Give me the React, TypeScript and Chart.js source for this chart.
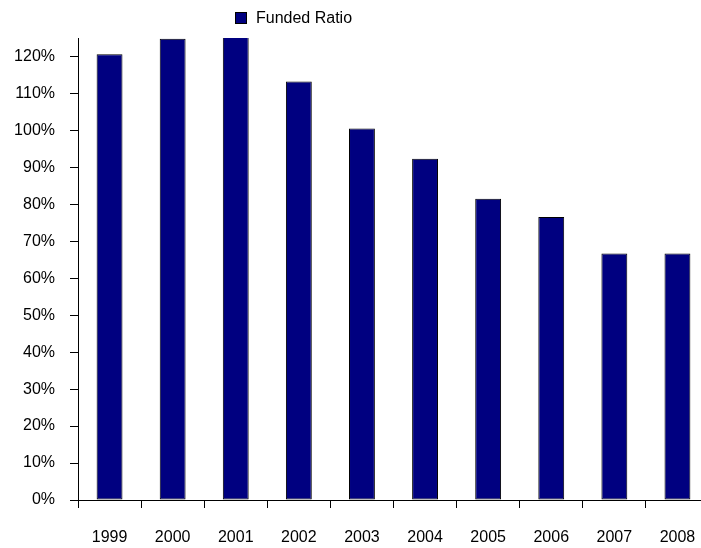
import React, { useEffect, useRef } from "react";
import { Chart, registerables } from "chart.js";

Chart.register(...registerables);

const categories: string[] = ["1999", "2000", "2001", "2002", "2003", "2004", "2005", "2006", "2007", "2008"];
const fundedRatio: number[] = [120.6, 124.8, 125.3, 113.2, 100.5, 92.3, 81.5, 76.6, 66.7, 66.7];
const seriesLabel = "Funded Ratio";
const yMin = 0;
const yMax = 125;
const yStep = 10;

const FONT = "'Liberation Sans', Arial, sans-serif";

const legendPlugin = {
  id: "customLegend",
  afterDraw(chart: any) {
    const ctx = chart.ctx;
    const ds = chart.data.datasets[0];
    ctx.save();
    ctx.fillStyle = ds.backgroundColor;
    ctx.strokeStyle = "#000";
    ctx.lineWidth = 1;
    ctx.fillRect(235, 12, 12, 12);
    ctx.strokeRect(235.5, 12.5, 11, 11);
    ctx.fillStyle = "#000";
    ctx.font = `16px ${FONT}`;
    ctx.textBaseline = "middle";
    ctx.textAlign = "left";
    ctx.fillText(ds.label, 256, 19);
    ctx.restore();
  },
};

export default function App() {
  const ref = useRef<HTMLCanvasElement | null>(null);

  useEffect(() => {
    if (!ref.current) return;
    const chart = new Chart(ref.current, {
      type: "bar",
      data: {
        labels: categories,
        datasets: [
          {
            label: seriesLabel,
            data: fundedRatio,
            backgroundColor: "#000080",
            borderColor: "#000000",
            borderWidth: 1,
            borderSkipped: false,
            categoryPercentage: 1,
            barPercentage: 0.41,
          },
        ],
      },
      options: {
        animation: false,
        responsive: false,
        maintainAspectRatio: false,
        layout: { padding: { top: 38, right: 11, left: 0, bottom: 0 } },
        plugins: {
          legend: { display: false },
          tooltip: { enabled: false },
        },
        scales: {
          x: {
            offset: true,
            grid: {
              display: true,
              drawOnChartArea: false,
              drawTicks: true,
              tickLength: 8,
              color: "#000",
              offset: true,
            },
            border: { display: true, color: "#000", width: 1 },
            ticks: {
              color: "#000",
              font: { family: FONT, size: 16 },
              padding: 20,
              maxRotation: 0,
              autoSkip: false,
            },
            afterFit: (scale: any) => {
              scale.height = 48;
            },
          },
          y: {
            min: yMin,
            max: yMax,
            grid: {
              display: true,
              drawOnChartArea: false,
              drawTicks: true,
              tickLength: 8,
              color: "#000",
            },
            border: { display: true, color: "#000", width: 1 },
            ticks: {
              stepSize: yStep,
              color: "#000",
              font: { family: FONT, size: 16 },
              padding: 15,
              callback: (v: any) => `${v}%`,
            },
            afterBuildTicks: (scale: any) => {
              scale.ticks = scale.ticks.filter((t: any) => t.value % yStep === 0);
            },
            afterFit: (scale: any) => {
              scale.width = 78;
            },
          },
        },
      },
      plugins: [legendPlugin],
    });
    return () => chart.destroy();
  }, []);

  return (
    <div
      style={{
        position: "fixed",
        left: 0,
        top: 0,
        width: 701,
        height: 548,
        overflow: "hidden",
        background: "#fff",
      }}
    >
      <canvas ref={ref} width={720} height={548} style={{ display: "block", width: 720, height: 548 }} />
    </div>
  );
}
